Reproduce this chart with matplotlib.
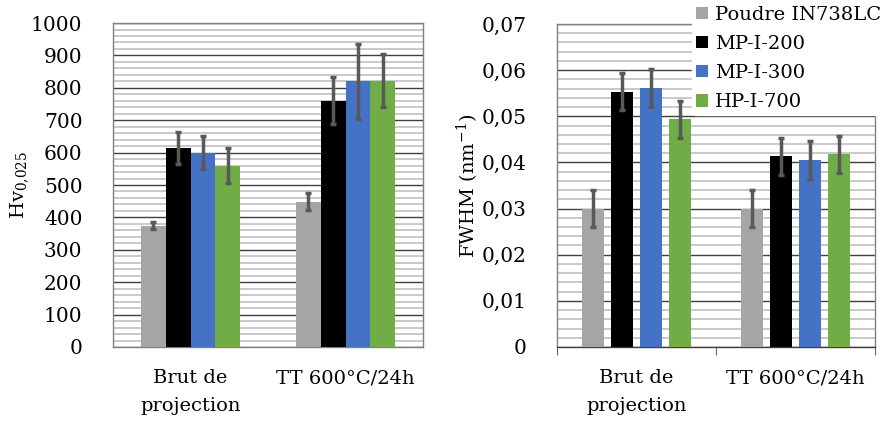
import numpy as np
import matplotlib
matplotlib.use("Agg")
import matplotlib.pyplot as plt
from matplotlib.ticker import MultipleLocator, FuncFormatter

# données
categories = ["Brut de\nprojection", "TT 600°C/24h"]
series = ["Poudre IN738LC", "MP-I-200", "MP-I-300", "HP-I-700"]
colors = ["#A5A5A5", "#000000", "#4472C4", "#70AD47"]

hv = [[375, 448], [615, 760], [600, 820], [560, 822]]
hv_err = [[11, 26], [49, 73], [52, 116], [55, 82]]

fwhm = [[0.030, 0.030], [0.0553, 0.0413], [0.0562, 0.0405], [0.0494, 0.0418]]
fwhm_err = [[0.0041, 0.0040], [0.0040, 0.0040], [0.0041, 0.0041], [0.0040, 0.0040]]

plt.rcParams["font.family"] = ["DejaVu Serif"]
plt.rcParams["mathtext.fontset"] = "dejavuserif"
FS = 14

fig = plt.figure(figsize=(8.85, 4.21), dpi=100)
ax1 = fig.add_axes([0.1277, 0.1758, 0.3503, 0.7695])
ax2 = fig.add_axes([0.6294, 0.1758, 0.3593, 0.7672])

x = np.arange(len(categories)) + 0.5


def draw(ax, vals, errs, width, step):
    for i, name in enumerate(series):
        pos = x + (i - 1.5) * step
        ax.bar(pos, vals[i], width, color=colors[i], label=name, zorder=3)
        ax.errorbar(pos, vals[i], yerr=errs[i], fmt="none", ecolor="#595959",
                    elinewidth=2.5, capsize=2.5, capthick=2.5, zorder=4)
    ax.set_xlim(0, len(categories))
    ax.set_xticks(x)
    ax.set_xticklabels(categories, fontsize=FS, linespacing=1.7)
    ax.yaxis.grid(True, which="major", color="#404040", lw=1.0, zorder=1)
    ax.yaxis.grid(True, which="minor", color="#C0C0C0", lw=1.2, zorder=1)
    ax.set_axisbelow(True)
    ax.tick_params(axis="y", which="both", length=0, labelsize=14.5, pad=22)
    ax.tick_params(axis="x", length=0, pad=16)
    for s in ax.spines.values():
        s.set_color("#808080")
        s.set_linewidth(1.0)


draw(ax1, hv, hv_err, 0.16, 0.16)
ax1.set_ylim(0, 1000)
ax1.yaxis.set_major_locator(MultipleLocator(100))
ax1.yaxis.set_minor_locator(MultipleLocator(20))
ax1.set_ylabel(r"Hv$_{0{,}025}$", fontsize=FS, labelpad=0)

draw(ax2, fwhm, fwhm_err, 0.14, 0.183)
ax2.set_ylim(0, 0.07)
ax2.yaxis.set_major_locator(MultipleLocator(0.01))
ax2.yaxis.set_minor_locator(MultipleLocator(0.002))
ax2.yaxis.set_major_formatter(FuncFormatter(
    lambda v, p: "0" if abs(v) < 1e-9 else f"{v:.2f}".replace(".", ",")))
ax2.set_ylabel(r"FWHM (nm$^{-1}$)", fontsize=FS, labelpad=0)
# ticks de catégories sur l'axe x (style Excel)
ax2.set_xticks([0, 1, 2], minor=True)
ax2.tick_params(axis="x", which="minor", length=6, color="#404040", direction="out")
ax2.spines["bottom"].set_color("#404040")

handles, labels = ax2.get_legend_handles_labels()
leg = fig.legend(handles, labels, loc="upper left", bbox_to_anchor=(0.782, 0.996),
                 fontsize=FS, frameon=True, framealpha=1, edgecolor="white",
                 facecolor="white", handlelength=0.6, handleheight=0.6,
                 handletextpad=0.4, labelspacing=0.58, borderpad=0.2,
                 borderaxespad=0)

fig.savefig("out.png", dpi=100)
